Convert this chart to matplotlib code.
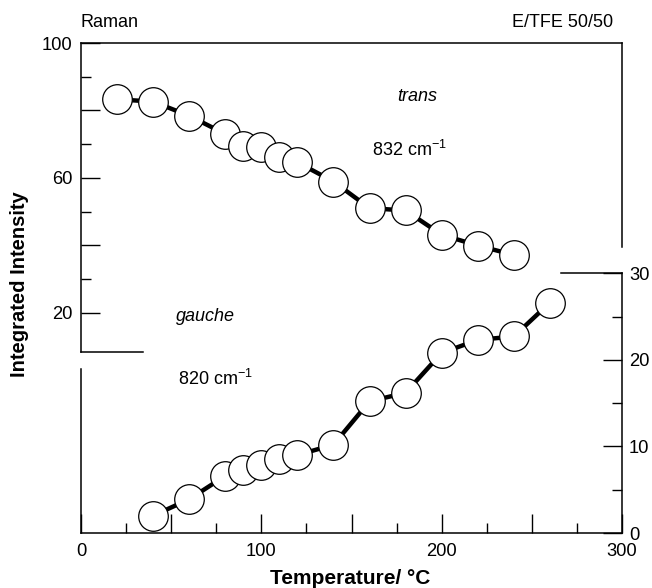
import matplotlib
matplotlib.use("Agg")
import matplotlib.pyplot as plt
from matplotlib.ticker import FixedLocator, FuncFormatter

plt.rcParams['font.family'] = ['Liberation Sans', 'DejaVu Sans']
plt.rcParams['mathtext.fontset'] = 'custom'
plt.rcParams['mathtext.rm'] = 'Liberation Sans'
plt.rcParams['mathtext.it'] = 'Liberation Sans:italic'

# ---- data ----
trans_T = [20, 40, 60, 80, 90, 100, 110, 120, 140, 160, 180, 200, 220, 240]
trans_I = [83.3, 82.6, 78.4, 73.0, 69.3, 69.1, 66.3, 64.6, 58.9, 51.0, 50.3, 43.1, 39.9, 37.1]

gauche_T = [40, 60, 80, 90, 100, 110, 120, 140, 160, 180, 200, 220, 240, 260]
gauche_I = [2.0, 3.9, 6.6, 7.3, 7.9, 8.6, 9.0, 10.2, 15.2, 16.2, 20.8, 22.3, 22.7, 26.6]

x_major = [0, 50, 100, 150, 200, 250, 300]
x_minor = [25, 75, 125, 175, 225, 275]
left_major = [20, 40, 60, 80, 100]
left_minor = [30, 50, 70, 90]
right_major = [0, 10, 20, 30]
right_minor = [5, 15, 25]

fig = plt.figure(figsize=(6.52, 5.88), dpi=100)
ax1 = fig.add_axes([81/652, 55/588, 541/652, 490/588])
ax2 = ax1.twinx()

lw_spine = 1.1
ax1.set_xlim(0, 300)
ax1.set_ylim(-45.4, 100)
ax2.set_ylim(0, 56.6)

# data
ax1.plot(trans_T, trans_I, color='black', lw=3.2, zorder=2)
ax1.plot(trans_T, trans_I, ls='none', marker='o', ms=21.3, mfc='white',
         mec='black', mew=0.9, zorder=3)
ax2.plot(gauche_T, gauche_I, color='black', lw=3.2, zorder=2)
ax2.plot(gauche_T, gauche_I, ls='none', marker='o', ms=21.3, mfc='white',
         mec='black', mew=0.9, zorder=3)

# spines
for ax in (ax1, ax2):
    for s in ax.spines.values():
        s.set_linewidth(lw_spine)
ax1.spines['left'].set_bounds(8.4, 100)
ax1.spines['right'].set_bounds(39.5, 100)
ax2.spines['top'].set_visible(False)
ax2.spines['bottom'].set_visible(False)
ax2.spines['left'].set_bounds(0, 18.9)
ax2.spines['right'].set_bounds(0, 30)

ax1.plot([0, 34.4], [8.4, 8.4], color='black', lw=lw_spine, clip_on=False)
ax2.plot([266, 300], [30, 30], color='black', lw=lw_spine, clip_on=False)

# ticks
ax1.xaxis.set_major_locator(FixedLocator(x_major))
ax1.xaxis.set_minor_locator(FixedLocator(x_minor))
ax1.xaxis.set_major_formatter(FuncFormatter(lambda v, p: f"{v:.0f}" if v % 100 == 0 else ""))
ax1.yaxis.set_major_locator(FixedLocator(left_major))
ax1.yaxis.set_minor_locator(FixedLocator(left_minor))
ax1.yaxis.set_major_formatter(FuncFormatter(lambda v, p: f"{v:.0f}" if v in (20, 60, 100) else ""))
ax2.yaxis.set_major_locator(FixedLocator(right_major))
ax2.yaxis.set_minor_locator(FixedLocator(right_minor))
ax2.yaxis.set_major_formatter(FuncFormatter(lambda v, p: f"{v:.0f}"))

ax1.tick_params(axis='both', which='both', direction='in', top=False, right=False,
                labelsize=13.2, width=1.0)
ax1.tick_params(axis='both', which='major', length=13.5)
ax1.tick_params(axis='both', which='minor', length=7.2)
ax1.tick_params(axis='x', pad=7)
ax1.tick_params(axis='y', pad=6)
ax2.tick_params(axis='y', which='both', direction='in', left=False, right=True,
                labelsize=13.2, width=1.0, pad=5)
ax2.tick_params(axis='y', which='major', length=13.5)
ax2.tick_params(axis='y', which='minor', length=7.2)

# labels
ax1.set_xlabel('Temperature/ °C', fontsize=15, fontweight='bold')
ax1.xaxis.set_label_coords(0.498, -0.073)
ax1.set_ylabel('Integrated Intensity', fontsize=14.5, fontweight='bold')
ax1.yaxis.set_label_coords(-0.097, 0.508)

ax1.text(0.0, 1.0327, 'Raman', transform=ax1.transAxes, fontsize=13,
         ha='left', va='baseline')
ax1.text(0.9834, 1.0327, 'E/TFE 50/50', transform=ax1.transAxes, fontsize=13,
         ha='right', va='baseline')

ax1.text(186.7, 84.1, 'trans', fontsize=13, style='italic', ha='center', va='center')
ax1.text(182, 68.3, '832 cm$^{-1}$', fontsize=13, ha='center', va='center')
ax1.text(68.8, 18.9, 'gauche', fontsize=13, style='italic', ha='center', va='center')
ax2.text(74.8, 17.85, '820 cm$^{-1}$', fontsize=13, ha='center', va='center')

fig.savefig('out.png', dpi=100)
